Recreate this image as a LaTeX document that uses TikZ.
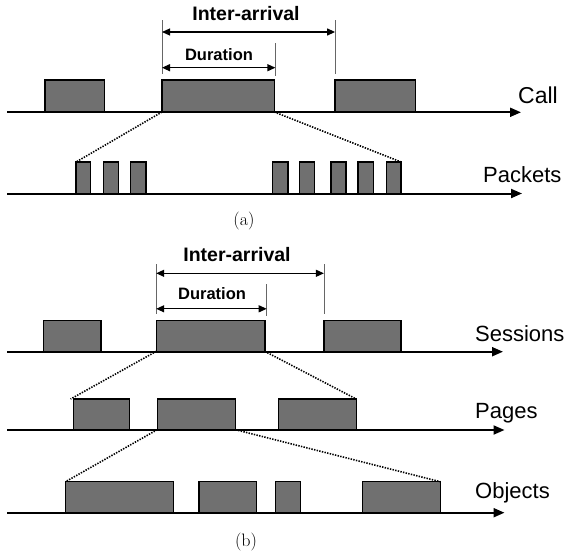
\documentclass[tikz,border=0pt]{standalone}
\usepackage{fontspec}
\newfontfamily\labfont{Liberation Sans}
\usetikzlibrary{arrows.meta}
\definecolor{boxgray}{HTML}{707070}
% one pulse on a time axis: name, left x, right x, top y, base y
\newcommand\pulse[5]{\node[blk, minimum width={(#3-#2)*1pt}, minimum height={(#5-#4)*1pt}] (#1) at (#2,#5) {};}
\begin{document}
\begin{tikzpicture}[x=1pt,y=-1pt,
  blk/.style={draw=black, line width=1.3pt, fill=boxgray, inner sep=0pt, outer sep=0pt, anchor=south west},
  axis/.style={line width=2pt, -{Triangle[length=11pt,width=9pt]}},
  zoomline/.style={line width=1.6pt, dash pattern=on 1.4pt off 1.3pt},
  ext/.style={line width=0.5pt, draw=black!60},
  dim/.style={line width=1.2pt, {Triangle[length=8pt,width=7pt]}-{Triangle[length=8pt,width=7pt]}},
  lbl/.style={font=\labfont\fontsize{22}{26}\selectfont, anchor=base west, inner sep=0pt},
  big/.style={font=\labfont\bfseries\fontsize{19.5}{23}\selectfont, anchor=base, inner sep=0pt},
  small/.style={font=\labfont\bfseries\fontsize{16.5}{20}\selectfont, anchor=base, inner sep=0pt},
  subcap/.style={font=\fontsize{18}{21}\selectfont, inner sep=0pt}]
\useasboundingbox (0,0) rectangle (568,554);

% ---------------- (a) calls and packets ----------------
\coordinate (ca0) at (7,112.3);   \coordinate (ca1) at (521,112.3);
\coordinate (pa0) at (7,193.5);   \coordinate (pa1) at (522,193.5);
\draw[axis] (ca0) -- (ca1);
\draw[axis] (pa0) -- (pa1);

\pulse{c1}{45}{104.7}{80}{112}
\pulse{c2}{162}{274.3}{80}{112}
\pulse{c3}{335.1}{415.2}{80}{112}

\pulse{p1}{76.1}{90.6}{162}{193.2}
\pulse{p2}{103.3}{118.5}{162}{193.2}
\pulse{p3}{130.8}{146}{162}{193.2}
\pulse{p4}{272.8}{288}{162}{193.2}
\pulse{p5}{299.6}{314.5}{162}{193.2}
\pulse{p6}{331}{346}{162}{193.2}
\pulse{p7}{358}{373.2}{162}{193.2}
\pulse{p8}{386.2}{401.1}{162}{193.2}

\draw[zoomline] (c2.south west) -- (p1.north west);
\draw[zoomline] (c2.south east) -- (p8.north east);

% dimension marks
\coordinate (ia1) at (162,20);  \coordinate (ia1b) at (162,74);
\coordinate (ia2) at (335.1,20); \coordinate (ia2b) at (335.1,74);
\coordinate (du2) at (275.4,43); \coordinate (du2b) at (275.4,76);
\draw[ext] (ia1) -- (ia1b);
\draw[ext] (ia2) -- (ia2b);
\draw[ext] (du2) -- (du2b);
\draw[dim] (162,32) -- (335.1,32);
\draw[dim] (162,67.7) -- (275.4,67.7);
\node[big] (iaa) at (246,20) {Inter-arrival};
\node[small] (dua) at (219,60) {Duration};

\node[lbl, font=\labfont\fontsize{23}{27}\selectfont] (lcall) at (518,103.3) {Call};
\node[lbl] (lpack) at (483,182) {Packets};
\node[subcap] (capa) at (244,221) {(a)};

% ---------------- (b) sessions, pages, objects ----------------
\coordinate (sa0) at (7,351.7);  \coordinate (sa1) at (503,351.7);
\coordinate (ga0) at (7,430);    \coordinate (ga1) at (504.5,430);
\coordinate (oa0) at (7,512.7);  \coordinate (oa1) at (504.5,512.7);
\draw[axis] (sa0) -- (sa1);
\draw[axis] (ga0) -- (ga1);
\draw[axis] (oa0) -- (oa1);

\pulse{s1}{43.8}{101}{320.7}{351.4}
\pulse{s2}{156.2}{264.9}{320.7}{351.4}
\pulse{s3}{323.9}{401.1}{320.7}{351.4}

\pulse{g1}{73.6}{129.7}{399}{429.7}
\pulse{g2}{157.2}{235.5}{399}{429.7}
\pulse{g3}{278.6}{356.2}{399}{429.7}

\pulse{o1}{65.6}{173.2}{481.7}{512.4}
\pulse{o2}{198.9}{256.5}{481.7}{512.4}
\pulse{o3}{275.4}{300.7}{481.7}{512.4}
\pulse{o4}{362.3}{440.2}{481.7}{512.4}

\draw[zoomline] (s2.south west) -- ([xshift=-3pt]g1.north west);
\draw[zoomline] (s2.south east) -- (g3.north east);
\draw[zoomline] (g2.south west) -- (o1.north west);
\draw[zoomline] (g2.south east) -- (o4.north east);

\coordinate (ib1) at (156.2,264); \coordinate (ib1b) at (156.2,314);
\coordinate (ib2) at (323.9,264); \coordinate (ib2b) at (323.9,314);
\coordinate (db2) at (266.7,284); \coordinate (db2b) at (266.7,316);
\draw[ext] (ib1) -- (ib1b);
\draw[ext] (ib2) -- (ib2b);
\draw[ext] (db2) -- (db2b);
\draw[dim] (156.2,273.3) -- (323.9,273.3);
\draw[dim] (156.2,308.8) -- (266.7,308.8);
\node[big] (iab) at (237,261.8) {Inter-arrival};
\node[small] (dub) at (212,299) {Duration};

\node[lbl] (lsess) at (475,341.7) {Sessions};
\node[lbl] (lpage) at (475,418.3) {Pages};
\node[lbl] (lobj) at (475,498.5) {Objects};
\node[subcap] (capb) at (246,542) {(b)};
\end{tikzpicture}
\end{document}
